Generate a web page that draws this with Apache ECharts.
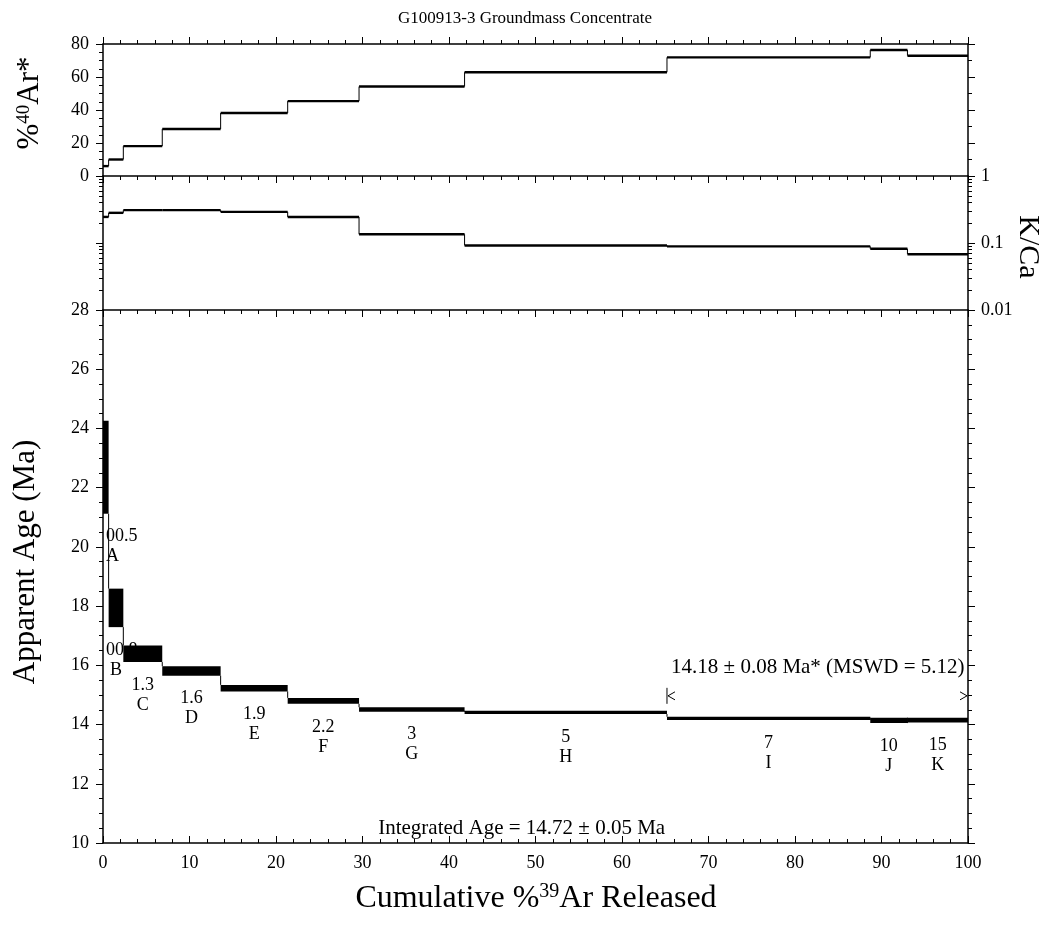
<!DOCTYPE html>
<html><head><meta charset="utf-8">
<script src="https://cdn.jsdelivr.net/npm/echarts@6/dist/echarts.min.js"></script>
<style>html,body{margin:0;padding:0;background:#fff}#c{width:1050px;height:927px}</style>
</head><body><div id="c"></div>
<script>
// ---- data ----
const cumBounds   = [0, 0.65, 2.35, 6.85, 13.6, 21.35, 29.6, 41.8, 65.2, 88.7, 93.0, 100];
const stepLetters = ['A','B','C','D','E','F','G','H','I','J','K'];
const stepPower   = ['00.5','00.8','1.3','1.6','1.9','2.2','3','5','7','10','15'];
const pctRadAr    = [6.0, 10.0, 18.1, 28.5, 38.2, 45.4, 54.2, 62.9, 71.9, 76.4, 72.9];
const kCa         = [0.245, 0.282, 0.309, 0.309, 0.291, 0.245, 0.135, 0.092, 0.089, 0.082, 0.068];
const ages        = [22.69, 17.94, 16.39, 15.81, 15.23, 14.80, 14.51, 14.41, 14.21, 14.14, 14.15];
const ageErr      = [1.57, 0.65, 0.28, 0.16, 0.11, 0.10, 0.075, 0.055, 0.055, 0.09, 0.08];
const plateauStart = 65.2, plateauEnd = 100, plateauMarkAge = 14.97;
const plateauText = '14.18 \u00b1 0.08 Ma* (MSWD = 5.12)';
const plateauTextPos = [99.6, 15.93];
const integratedText = 'Integrated Age = 14.72 \u00b1 0.05 Ma';
const integratedTextPos = [48.4, 10.49];
const kCaTickLabels = {1: '1', 0.1: '0.1', 0.01: '0.01'};
const titleText = 'G100913-3 Groundmass Concentrate';

const FONT = "'Liberation Serif','Times New Roman',serif";
const chart = echarts.init(document.getElementById('c'), null, {renderer: 'canvas'});

const GL = 103, GR = 82;
const grids = [
  {left: GL, right: GR, top: 44, height: 132},
  {left: GL, right: GR, top: 176, height: 134},
  {left: GL, right: GR, top: 310, height: 533}
];

function xAxisCfg(grid, pos, inside, showLabel) {
  return {
    type: 'value', gridIndex: grid, position: pos, min: 0, max: 100, interval: 10,
    axisLine: {show: true, onZero: false, lineStyle: {color: '#000', width: 1.5}},
    axisTick: {show: true, inside: inside, length: 7, lineStyle: {color: '#000', width: 1}},
    minorTick: {show: true, splitNumber: 5, length: 4, lineStyle: {color: '#000', width: 1}},
    axisLabel: {show: showLabel, color: '#000', fontFamily: FONT, fontSize: 18, margin: 11},
    splitLine: {show: false}
  };
}
function yValueCfg(grid, pos, min, max, interval, minorSplit, showLabel) {
  return {
    type: 'value', gridIndex: grid, position: pos, min: min, max: max, interval: interval,
    axisLine: {show: true, onZero: false, lineStyle: {color: '#000', width: 1.5}},
    axisTick: {show: true, inside: false, length: 7, lineStyle: {color: '#000', width: 1}},
    minorTick: {show: true, splitNumber: minorSplit, length: 4, lineStyle: {color: '#000', width: 1}},
    axisLabel: {show: showLabel, color: '#000', fontFamily: FONT, fontSize: 18, margin: 14},
    splitLine: {show: false}
  };
}
function yLogCfg(grid, pos, showLabel) {
  return {
    type: 'log', logBase: 10, gridIndex: grid, position: pos, min: 0.01, max: 1,
    axisLine: {show: true, onZero: false, lineStyle: {color: '#000', width: 1.5}},
    axisTick: {show: true, inside: false, length: 7, lineStyle: {color: '#000', width: 1}},
    minorTick: {show: true, splitNumber: 9, length: 4, lineStyle: {color: '#000', width: 1}},
    axisLabel: {show: showLabel, color: '#000', fontFamily: FONT, fontSize: 18, margin: 13,
      formatter: v => kCaTickLabels[v] !== undefined ? kCaTickLabels[v] : (+v.toPrecision(3)).toString()},
    splitLine: {show: false}
  };
}

// step-line renderer: thick horizontals, thin risers
function stepRender(values) {
  return function (params, api) {
    const i = params.dataIndex;
    const x0 = cumBounds[i], x1 = cumBounds[i + 1];
    const p0 = api.coord([x0, values[i]]);
    const p1 = api.coord([x1, values[i]]);
    const children = [{
      type: 'line', shape: {x1: p0[0], y1: p0[1], x2: p1[0], y2: p1[1]},
      style: {stroke: '#000', lineWidth: 2.4}
    }];
    if (i > 0) {
      const q = api.coord([x0, values[i - 1]]);
      children.push({type: 'line', shape: {x1: q[0], y1: q[1], x2: p0[0], y2: p0[1]},
        style: {stroke: '#000', lineWidth: 1}});
    }
    return {type: 'group', children: children};
  };
}

const stepIdx = stepLetters.map((_, i) => [cumBounds[i], cumBounds[i + 1]]);

const measureCtx = document.createElement('canvas').getContext('2d');
function textW(t, size) { measureCtx.font = size + 'px ' + FONT; return measureCtx.measureText(t).width; }

function labelRender(params, api) {
  const i = params.dataIndex;
  const mid = (cumBounds[i] + cumBounds[i + 1]) / 2;
  const low = ages[i] - ageErr[i];
  const p = api.coord([mid, low]);
  const left = api.coord([0, low])[0] + 3;
  const fs = 18;
  function item(txt, dy) {
    const w = textW(txt, fs);
    let x = p[0];
    if (x - w / 2 < left) x = left + w / 2;
    return {type: 'text', x: x, y: p[1] + dy,
      style: {text: txt, fill: '#000', font: fs + 'px ' + FONT, align: 'center', verticalAlign: 'middle'}};
  }
  return {type: 'group', children: [item(stepPower[i], 23), item(stepLetters[i], 43)]};
}

function boxRender(params, api) {
  const i = params.dataIndex;
  const x0 = cumBounds[i], x1 = cumBounds[i + 1];
  const hi = ages[i] + ageErr[i], lo = ages[i] - ageErr[i];
  const a = api.coord([x0, hi]), b = api.coord([x1, lo]);
  const children = [{type: 'rect', shape: {x: a[0], y: a[1], width: b[0] - a[0], height: Math.max(b[1] - a[1], 1)},
    style: {fill: '#000'}}];
  if (i > 0) {
    const prevLo = ages[i - 1] - ageErr[i - 1];
    const q = api.coord([x0, prevLo]);
    children.push({type: 'line', shape: {x1: q[0], y1: q[1], x2: a[0], y2: a[1]},
      style: {stroke: '#000', lineWidth: 1}});
  }
  return {type: 'group', children: children};
}

function plateauRender(params, api) {
  const l = api.coord([plateauStart, plateauMarkAge]);
  const r = api.coord([plateauEnd, plateauMarkAge]);
  const t = api.coord(plateauTextPos);
  const g = api.coord(integratedTextPos);
  const s = {stroke: '#000', lineWidth: 1, fill: null};
  return {type: 'group', children: [
    {type: 'line', shape: {x1: l[0], y1: l[1] - 8, x2: l[0], y2: l[1] + 8}, style: s},
    {type: 'polyline', shape: {points: [[l[0] + 8, l[1] - 4], [l[0] + 1, l[1]], [l[0] + 8, l[1] + 4]]}, style: s},
    {type: 'polyline', shape: {points: [[r[0] - 8, r[1] - 4], [r[0] - 1, r[1]], [r[0] - 8, r[1] + 4]]}, style: s},
    {type: 'text', x: t[0], y: t[1], style: {text: plateauText, fill: '#000', font: '21px ' + FONT, align: 'right', verticalAlign: 'middle'}},
    {type: 'text', x: g[0], y: g[1], style: {text: integratedText, fill: '#000', font: '21px ' + FONT, align: 'center', verticalAlign: 'middle'}}
  ]};
}

const option = {
  animation: false,
  backgroundColor: '#fff',
  title: {text: titleText, left: 'center', top: 5,
    textStyle: {fontFamily: FONT, fontSize: 17, fontWeight: 'normal', color: '#000'}},
  grid: grids,
  xAxis: [
    xAxisCfg(0, 'top', false, false),
    xAxisCfg(0, 'bottom', false, false),
    xAxisCfg(1, 'bottom', false, false),
    xAxisCfg(2, 'bottom', true, true)
  ],
  yAxis: [
    yValueCfg(0, 'left', 0, 80, 20, 4, true),
    yValueCfg(0, 'right', 0, 80, 20, 2, false),
    yLogCfg(1, 'left', false),
    yLogCfg(1, 'right', true),
    yValueCfg(2, 'left', 10, 28, 2, 4, true),
    yValueCfg(2, 'right', 10, 28, 2, 4, false)
  ],
  graphic: [
    {type: 'text', x: 30, y: 103, rotation: Math.PI / 2,
      style: {text: '{a|%}{s|40}{a|Ar*}', align: 'center', verticalAlign: 'middle',
        rich: {a: {fontFamily: FONT, fontSize: 31, fill: '#000', verticalAlign: 'bottom'},
               s: {fontFamily: FONT, fontSize: 19, fill: '#000', verticalAlign: 'top', padding: [0,0,12,0]}}}},
    {type: 'text', x: 1028, y: 247, rotation: -Math.PI / 2,
      style: {text: 'K/Ca', align: 'center', verticalAlign: 'middle', font: '30px ' + FONT, fill: '#000'}},
    {type: 'text', x: 26, y: 562, rotation: Math.PI / 2,
      style: {text: 'Apparent Age (Ma)', align: 'center', verticalAlign: 'middle', font: '31px ' + FONT, fill: '#000'}},
    {type: 'text', x: 536, y: 898,
      style: {text: '{a|Cumulative %}{s|39}{a|Ar Released}', align: 'center', verticalAlign: 'middle',
        rich: {a: {fontFamily: FONT, fontSize: 32, fill: '#000', verticalAlign: 'bottom'},
               s: {fontFamily: FONT, fontSize: 20, fill: '#000', verticalAlign: 'top', padding: [0,0,13,0]}}}}
  ],
  series: [
    {type: 'custom', xAxisIndex: 0, yAxisIndex: 0, data: stepIdx, renderItem: stepRender(pctRadAr), clip: false, z: 3},
    {type: 'custom', xAxisIndex: 2, yAxisIndex: 2, data: stepIdx, renderItem: stepRender(kCa), clip: false, z: 3},
    {type: 'custom', xAxisIndex: 3, yAxisIndex: 4, data: stepIdx, renderItem: labelRender, z: 2},
    {type: 'custom', xAxisIndex: 3, yAxisIndex: 4, data: stepIdx, renderItem: boxRender, z: 4},
    {type: 'custom', xAxisIndex: 3, yAxisIndex: 4, data: [[plateauStart, plateauMarkAge]], renderItem: plateauRender, z: 4}
  ]
};
chart.setOption(option);
</script></body></html>
